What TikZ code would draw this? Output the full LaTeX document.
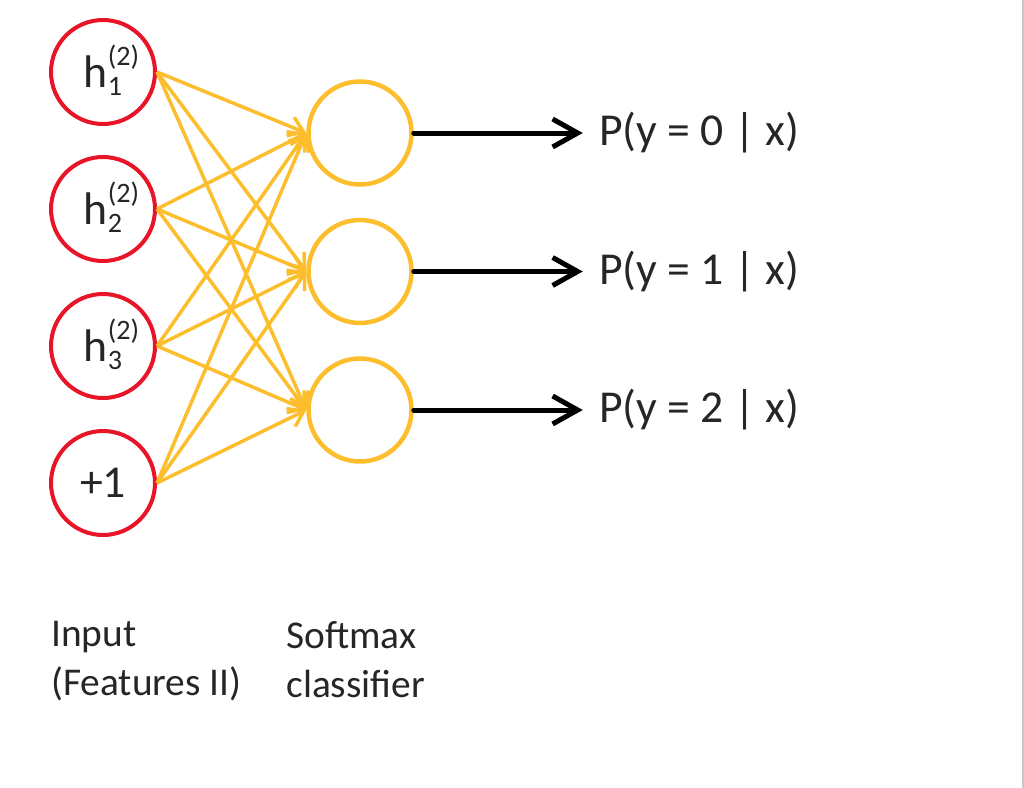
\documentclass[tikz,border=0pt]{standalone}
\usepackage{fontspec}
\setmainfont{Carlito}
\usetikzlibrary{arrows.meta, positioning}
\definecolor{unitred}{RGB}{232,20,40}
\definecolor{unitgold}{RGB}{252,190,45}
\definecolor{textgray}{RGB}{38,38,38}
\newcommand{\hunit}[1]{h\rlap{\smash{\raisebox{13pt}{\fontsize{16}{16}\selectfont(2)}}}\smash{\raisebox{-4.5pt}{\fontsize{16}{16}\selectfont #1}}}
\tikzset{
    inputnode/.style={circle, draw=unitred, line width=0.08cm, minimum size=2.08cm, inner sep=0pt, text=textgray, font=\fontsize{26}{30}\selectfont},
    softnode/.style={circle, draw=unitgold, line width=0.09cm, minimum size=2.06cm, inner sep=0pt},
    probnode/.style={inner xsep=0.32cm, inner ysep=0pt, text=textgray, font=\fontsize{26}{30}\selectfont},
    labelnode/.style={align=left, anchor=north west, inner sep=0pt, text=textgray, font=\fontsize{22.4}{27.9}\selectfont},
    edge/.style={draw=unitgold, line width=0.07cm, -{Straight Barb[length=0.28cm, width=0.4cm]}},
    arrow/.style={line width=0.1cm, line cap=round, -{Straight Barb[length=0.5cm, width=0.56cm]}}
}
\begin{document}
\begin{tikzpicture}[node distance=0.58cm and 3.38cm]
    \useasboundingbox (0,0) rectangle (20.48,-15.76);
    % Nodes
    \node (h1) [inputnode] at (2.06,-1.44) {\hunit{1}};
    \node (h2) [inputnode, below=of h1] {\hunit{2}};
    \node (h3) [inputnode, below=of h2] {\hunit{3}};
    \node (bias) [inputnode, below=of h3] {+1};
    \node (s0) [softnode] at (7.2,-2.66) {};
    \node (s1) [softnode, below=0.62cm of s0] {};
    \node (s2) [softnode, below=0.62cm of s1] {};
    \node (p0) [probnode, right=of s0] {P(y = 0 | x)};
    \node (p1) [probnode, right=of s1] {P(y = 1 | x)};
    \node (p2) [probnode, right=of s2] {P(y = 2 | x)};
    \node (inLabel) [labelnode] at (1.02,-12.42) {Input\\(Features II)};
    \node (softLabel) [labelnode] at (5.72,-12.42) {Softmax\\classifier};
    % Arrows
    \foreach \i in {h1,h2,h3,bias}
        \foreach \j in {s0,s1,s2}
            \draw [edge] (\i.east) -- (\j.west);
    \draw [arrow] (s0) -- (p0);
    \draw [arrow] (s1) -- (p1);
    \draw [arrow] (s2) -- (p2);
    % right edge
    \draw [black!22, line width=0.04cm] (20.45,0) -- (20.45,-15.76);
\end{tikzpicture}
\end{document}
